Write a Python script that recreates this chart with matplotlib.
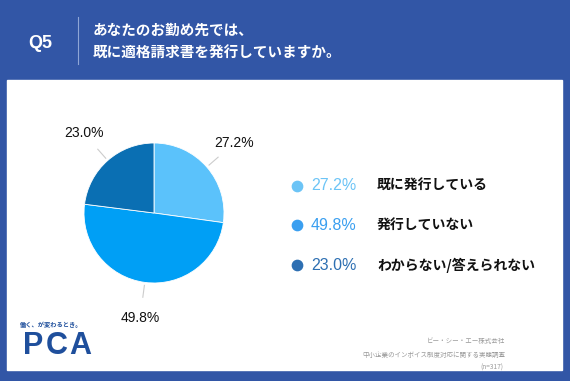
import numpy as np
import matplotlib.pyplot as plt
from matplotlib.patches import Rectangle

plt.rcParams['font.family'] = ['Noto Sans CJK JP', 'DejaVu Sans']
NUM_FONT = ['Liberation Sans', 'DejaVu Sans']

# data
labels = ['既に発行している', '発行していない', 'わからない/答えられない']
values = [27.2, 49.8, 23.0]
pie_colors = ['#5bc2fb', '#009ff5', '#0a6fb3']
dot_colors = ['#6cc4f6', '#3a9ff0', '#2d6fb2']
question = 'Q5'
title_lines = ['あなたのお勤め先では、', '既に適格請求書を発行していますか。']
source = ['ビー・シー・エー株式会社', '中小企業のインボイス制度対応に関する実態調査', '(n=317)']

W, H = 570, 381
fig = plt.figure(figsize=(W / 100, H / 100), dpi=100)
fig.patch.set_facecolor('#3256a6')

# background layer in pixel coords (y down)
bg = fig.add_axes([0, 0, 1, 1])
bg.set_xlim(0, W)
bg.set_ylim(H, 0)
bg.axis('off')
bg.add_patch(Rectangle((7, 80), 555, 290, color='white', zorder=0))

# header
bg.text(40, 43, question, color='white', fontsize=13, ha='center', va='center',
        family=NUM_FONT, fontweight='bold')
bg.plot([78, 78], [17, 64], color='#8fa6d6', lw=0.8)
bg.text(93, 30, title_lines[0], color='white', fontsize=10.5, va='center', fontweight='bold')
bg.text(93, 53, title_lines[1], color='white', fontsize=10.5, va='center', fontweight='bold')

# legend
rows_y = [186, 225, 265]
for i in range(len(labels)):
    bg.scatter([297], [rows_y[i]], s=55, color=dot_colors[i], zorder=3)
    bg.text(311, rows_y[i], f'{values[i]:.1f}%', color=dot_colors[i], fontsize=11.5,
            va='center', family=NUM_FONT)
    bg.text(377, rows_y[i], labels[i], color='#111111', fontsize=10, va='center', fontweight='bold')

# footer
bg.text(20, 324, '働く、が変わるとき。', color='#1f4f9c', fontsize=4.5, va='center', fontweight='bold')
for k, ch in enumerate('PCA'):
    bg.text(23 + k * 23, 346, ch, color='#1f4f9c', fontsize=22, va='center',
            family=NUM_FONT, fontweight='bold')
bg.text(505, 341, source[0], color='#999999', fontsize=4.7, ha='right', va='center')
bg.text(505, 355, source[1], color='#999999', fontsize=4.7, ha='right', va='center')
bg.text(503, 368, source[2], color='#999999', fontsize=4.7, ha='right', va='center')

# pie: center (154, 213), radius 70 px
cx, cy, box = 154, 213, 240
ax = fig.add_axes([(cx - box / 2) / W, (H - cy - box / 2) / H, box / W, box / H])
wedges, _ = ax.pie(values, colors=pie_colors, startangle=90, counterclock=False,
                   radius=70, wedgeprops=dict(linewidth=0.6, edgecolor='white'))
ax.set_xlim(-box / 2, box / 2)
ax.set_ylim(-box / 2, box / 2)
ax.set_aspect('equal')
ax.axis('off')

for w, v in zip(wedges, values):
    ang = np.deg2rad((w.theta1 + w.theta2) / 2)
    c, s = np.cos(ang), np.sin(ang)
    ax.plot([73 * c, 85 * c], [73 * s, 85 * s], color='#cccccc', lw=0.8)
    ax.text(106 * c, 106 * s, f'{v:.1f}%', ha='center', va='center', fontsize=10,
            color='#111111', family=NUM_FONT)

fig.savefig('out.png', dpi=100, facecolor=fig.get_facecolor())
